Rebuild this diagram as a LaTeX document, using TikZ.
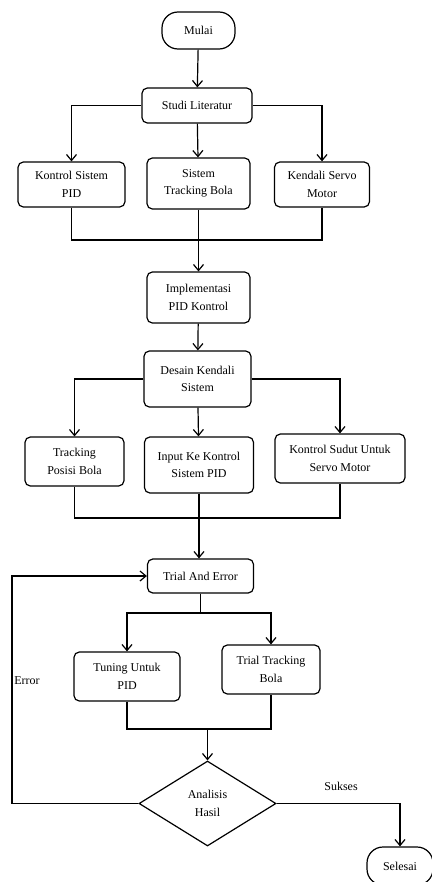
\documentclass[tikz,border=0pt]{standalone}
\usepackage{fontspec}
\setmainfont{Liberation Serif}
\usetikzlibrary{shapes.geometric,arrows.meta}
\tikzset{every picture/.style={line width=0.9pt}}
\tikzset{
  box/.style={draw, rounded corners=4pt, align=center, inner sep=1pt, font=\fontsize{9}{13}\selectfont},
  term/.style={box, rounded corners=12pt},
  decision/.style={draw, diamond, align=center, inner sep=1pt, font=\fontsize{9}{13}\selectfont, minimum width=102.75pt, minimum height=63.75pt},
  lbl/.style={inner sep=0.75pt, font=\fontsize{9}{11}\selectfont},
  arr/.style={-{Straight Barb[length=4.5pt,width=7.5pt]}}
}

\begin{document}
\begin{tikzpicture}[x=0.75pt,y=0.75pt,yscale=-1,xscale=1]
\useasboundingbox (0,0) rectangle (432,882);

%Shape: Terminator [id:mulai]
\node [term, minimum width=54.75pt, minimum height=27.75pt] (mulai) at (198.5,30.5) {Mulai};
%Shape: Rectangle [id:studi]
\node [box, minimum width=82.5pt, minimum height=26.25pt] (studi) at (197,105.5) {Studi Literatur};
%Shape: Rectangle [id:kontrol]
\node [box, minimum width=80.25pt, minimum height=33.75pt] (kontrol) at (71.5,184.5) {Kontrol Sistem\\PID};
%Shape: Rectangle [id:tracking]
\node [box, minimum width=77.25pt, minimum height=38.25pt] (tracking) at (198.5,183.5) {Sistem\\Tracking Bola};
%Shape: Rectangle [id:kendali]
\node [box, minimum width=71.25pt, minimum height=33.75pt] (kendali) at (322,184.5) {Kendali Servo\\Motor};
%Shape: Rectangle [id:impl]
\node [box, minimum width=77.25pt, minimum height=38.25pt] (impl) at (198.5,297.5) {Implementasi\\PID Kontrol};
%Shape: Rectangle [id:desain]
\node [box, minimum width=80.25pt, minimum height=42pt] (desain) at (197.5,379) {Desain Kendali\\Sistem};
%Shape: Rectangle [id:posisi]
\node [box, minimum width=74.25pt, minimum height=36.75pt] (posisi) at (74.5,461.5) {Tracking\\Posisi Bola};
%Shape: Rectangle [id:input]
\node [box, minimum width=81.75pt, minimum height=42pt] (input) at (199,465) {Input Ke Kontrol\\Sistem PID};
%Shape: Rectangle [id:sudut]
\node [box, minimum width=97.5pt, minimum height=36.75pt] (sudut) at (340,458.5) {Kontrol Sudut Untuk\\Servo Motor};
%Shape: Rectangle [id:trial]
\node [box, minimum width=79.5pt, minimum height=25.5pt] (trial) at (200.5,576) {Trial And Error};
%Shape: Rectangle [id:tuning]
\node [box, minimum width=79.5pt, minimum height=36.75pt] (tuning) at (127,676.5) {Tuning Untuk\\PID};
%Shape: Rectangle [id:trialtrack]
\node [box, minimum width=73.5pt, minimum height=36.75pt] (trialtrack) at (271,669.5) {Trial Tracking\\Bola};
%Shape: Diamond [id:analisis]
\node [decision] (analisis) at (207.5,803.5) {Analisis\\Hasil};
%Shape: Terminator [id:selesai]
\node [term, minimum width=49.5pt, minimum height=28.5pt] (selesai) at (400,866) {Selesai};

%Joints
\coordinate (j1) at (198.5,240);
\coordinate (j2) at (199,518);
\coordinate (j3) at (201,613);
\coordinate (j4) at (207.5,729);
\coordinate (errbot) at (12,803.5);

%Straight Lines
\draw [arr] (mulai) -- (studi);
\draw [arr] (studi.west) -| (kontrol.north);
\draw [arr] (studi.east) -| (kendali.north);
\draw [arr] (studi) -- (tracking);
\draw (kontrol.south) |- (j1) -| (kendali.south);
\draw [arr] (tracking) -- (impl);
\draw [arr] (impl) -- (desain);
\draw [arr] (desain.west) -| (posisi.north);
\draw [arr] (desain.east) -| (sudut.north);
\draw [arr] (desain) -- (input);
\draw (posisi.south) |- (j2) -| (sudut.south);
\draw [arr] (input.south) -- (input.south |- trial.north);
\draw (trial.south) -- (trial.south |- j3);
\draw [arr] (j3) -| (tuning.north);
\draw [arr] (j3) -| (trialtrack.north);
\draw (tuning.south) |- (j4) -| (trialtrack.south);
\draw [arr] (j4) -- (analisis.north);
\draw [arr] (analisis.west) -- (errbot) |- (trial.west);
\draw [arr] (analisis.east) -| (selesai.north);

% Text Node
\node [lbl] (err) at (27,681) {Error};
% Text Node
\node [lbl] (sukses) at (341,786) {Sukses};

\end{tikzpicture}
\end{document}
